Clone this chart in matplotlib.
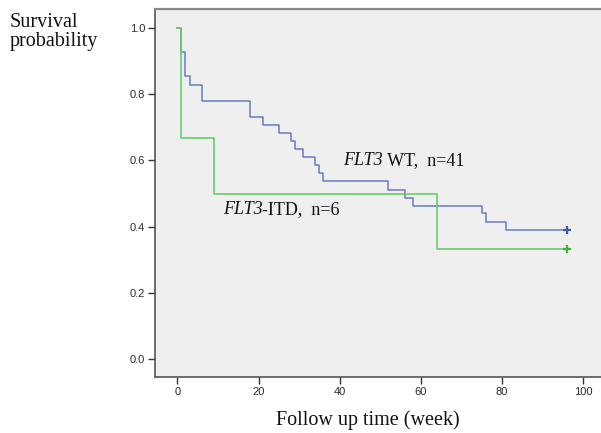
import matplotlib
matplotlib.use('Agg')
from matplotlib import pyplot as plt
from matplotlib.transforms import offset_copy

# Kaplan-Meier estimates
wt_time = [0, 1, 2, 3, 6, 18, 21, 25, 28, 29, 31, 34, 35, 36, 52, 56, 58, 75, 76, 81, 96]
wt_surv = [1.0, 0.927, 0.854, 0.829, 0.780, 0.732, 0.707, 0.683, 0.659, 0.634, 0.610,
           0.585, 0.561, 0.537, 0.512, 0.488, 0.463, 0.44, 0.415, 0.39, 0.39]
itd_time = [0, 1, 9, 64, 96]
itd_surv = [1.0, 0.667, 0.5, 0.333, 0.333]
censor_time = 96

xticks = [0, 20, 40, 60, 80, 100]
yticks = [0.0, 0.2, 0.4, 0.6, 0.8, 1.0]

blue = '#7385c8'
green = '#6acc6a'

fig = plt.figure(figsize=(6.01, 4.33), dpi=100)
ax = fig.add_axes([0.258, 0.1293, 0.742, 0.8497])
ax.set_facecolor('#efefef')

ax.step(wt_time, wt_surv, where='post', color=blue, lw=1.2)
ax.step(itd_time, itd_surv, where='post', color=green, lw=1.2)
ax.plot([censor_time], [wt_surv[-1]], marker='+', ms=6, mew=1.6, color='#3f55aa', ls='none')
ax.plot([censor_time], [itd_surv[-1]], marker='+', ms=6, mew=1.6, color='#3cb43c', ls='none')

ax.set_xlim(-5.5, 104.4)
ax.set_ylim(-0.054, 1.057)
ax.set_xticks(xticks)
ax.set_yticks(yticks)
ax.set_yticklabels(['%.1f' % v for v in yticks])
ax.tick_params(direction='out', length=5, width=1, colors='#333333', labelsize=8,
               labelcolor='#2a2a2a', pad=2)
for lab in ax.get_xticklabels() + ax.get_yticklabels():
	lab.set_family('Liberation Sans')

for s in ['left', 'bottom']:
	ax.spines[s].set_color('#555555')
	ax.spines[s].set_linewidth(1.2)
ax.spines['top'].set_color('#8a8a8a')
ax.spines['top'].set_linewidth(1.6)
ax.spines['right'].set_visible(False)


def gene_label(x, y, rest):
	# italic gene name followed by upright text, sharing one baseline
	t = ax.text(x, y, 'FLT3', fontsize=13, family='Liberation Serif', style='italic',
	            va='baseline', ha='left', color='#111111')
	fig.canvas.draw()
	w = t.get_window_extent().width * 72.0 / fig.dpi
	tr = offset_copy(ax.transData, fig=fig, x=w, y=0, units='points')
	ax.text(x, y, rest, fontsize=13, family='Liberation Serif', transform=tr,
	        va='baseline', ha='left', color='#111111')


gene_label(40.8, 0.587, ' WT,  n=41')
gene_label(11.2, 0.439, '-ITD,  n=6')

fig.text(10 / 601, 1 - 32 / 433, 'Survival\nprobability', fontsize=14.5, family='Liberation Serif',
         va='center', ha='left', linespacing=0.95, color='#111111')
fig.text(368 / 601, 1 - 420 / 433, 'Follow up time (week)', fontsize=14.5, family='Liberation Serif',
         va='center', ha='center', color='#111111')

plt.savefig('out.png', dpi=100)
